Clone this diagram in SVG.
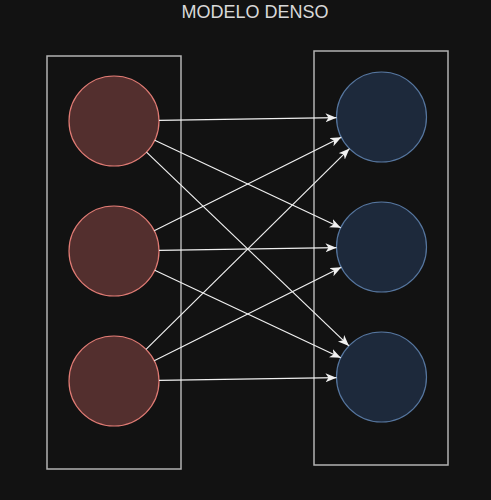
<svg xmlns="http://www.w3.org/2000/svg" width="491" height="500" viewBox="0 0 491 500">
<style>
.bg{fill:#121212}
.frame{fill:none;stroke:#b3b3b3;stroke-width:1.5}
.inp{fill:#532f2e;stroke:#e07b74;stroke-width:1.2}
.out{fill:#1d293b;stroke:#56769f;stroke-width:1.2}
.edge{fill:none;stroke:#f0f0f0;stroke-width:1.2}
.title{font-family:"Liberation Sans",Arial,sans-serif;font-size:18px;fill:#d9d9d9;text-anchor:middle}
</style>
<defs>
<marker id="arr" markerUnits="userSpaceOnUse" markerWidth="12" markerHeight="10" refX="11" refY="4.5" orient="auto">
<path d="M0,0 L11,4.5 L0,9 L3,4.5 z" fill="#f0f0f0"/>
</marker>
</defs>
<rect class="bg" x="0" y="0" width="491" height="500"/>
<text class="title" x="255" y="17.5">MODELO DENSO</text>
<g id="layer-in">
<rect class="frame" x="47" y="56" width="134" height="413"/>
</g>
<g id="layer-out">
<rect class="frame" x="314" y="51" width="134" height="414"/>
</g>
<g id="in1"><circle class="inp" cx="114" cy="121" r="45"/></g>
<g id="in2"><circle class="inp" cx="114" cy="251" r="45"/></g>
<g id="in3"><circle class="inp" cx="114" cy="381" r="45"/></g>
<g id="out1"><circle class="out" cx="381.5" cy="117" r="45"/></g>
<g id="out2"><circle class="out" cx="381.5" cy="247" r="45"/></g>
<g id="out3"><circle class="out" cx="381.5" cy="377" r="45"/></g>
<g id="connectors">
<line class="edge" x1="159" y1="120.3" x2="336.5" y2="117.7" marker-end="url(#arr)"/>
<line class="edge" x1="154.7" y1="140.2" x2="340.8" y2="227.8" marker-end="url(#arr)"/>
<line class="edge" x1="146.5" y1="152.1" x2="349" y2="345.9" marker-end="url(#arr)"/>
<line class="edge" x1="154.2" y1="230.8" x2="341.3" y2="137.2" marker-end="url(#arr)"/>
<line class="edge" x1="159" y1="250.3" x2="336.5" y2="247.7" marker-end="url(#arr)"/>
<line class="edge" x1="154.7" y1="270.2" x2="340.8" y2="357.8" marker-end="url(#arr)"/>
<line class="edge" x1="146" y1="349.4" x2="349.5" y2="148.6" marker-end="url(#arr)"/>
<line class="edge" x1="154.2" y1="360.8" x2="341.3" y2="267.2" marker-end="url(#arr)"/>
<line class="edge" x1="159" y1="380.3" x2="336.5" y2="377.7" marker-end="url(#arr)"/>
</g>
</svg>
